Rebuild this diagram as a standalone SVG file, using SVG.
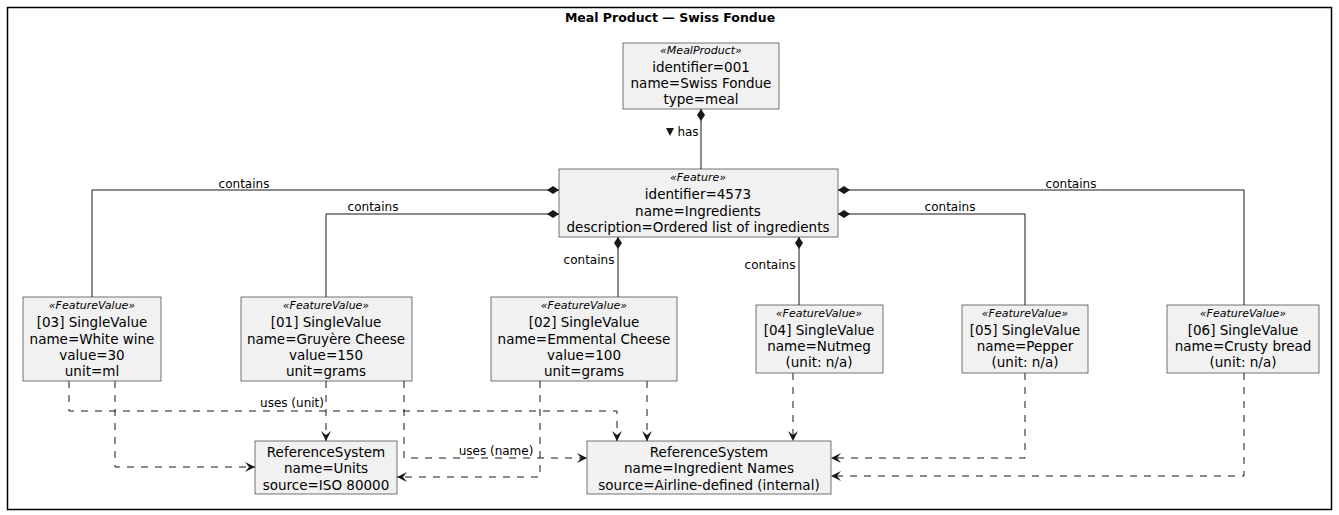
<svg xmlns="http://www.w3.org/2000/svg" width="1339" height="515" viewBox="0 0 1339 515">
<style>
.box{fill:#F1F1F1;stroke:#181818;stroke-width:0.6}
text{font-family:"DejaVu Sans","Liberation Sans",Arial,sans-serif;fill:#000}
.t{font-size:13.5px;text-anchor:middle}
.st{font-size:11px;font-style:italic;text-anchor:middle}
.lbl{font-size:12px;text-anchor:middle}
.ln{fill:none;stroke:#181818;stroke-width:1}
.dl{fill:none;stroke:#181818;stroke-width:1;stroke-dasharray:7,7}
</style>
<defs>
<marker id="arr" viewBox="0 0 12 10" refX="11" refY="5" markerWidth="12" markerHeight="10" markerUnits="userSpaceOnUse" orient="auto">
<path d="M1,0 L11,5 L1,10 L5,5 Z" fill="#181818"/>
</marker>
<marker id="dia" viewBox="0 0 14 10" refX="1" refY="5" markerWidth="14" markerHeight="10" markerUnits="userSpaceOnUse" orient="auto">
<path d="M1,5 L7,1 L13,5 L7,9 Z" fill="#181818"/>
</marker>
</defs>
<rect x="7.5" y="7.5" width="1324" height="502" fill="none" stroke="#000" stroke-width="1.5"/>
<text x="670" y="22" style="font-size:12.5px;font-weight:bold;text-anchor:middle">Meal Product — Swiss Fondue</text>

<g id="connectors">
<path class="ln" d="M701,109 L701,169" marker-start="url(#dia)"/>
<path d="M666,128 L674,128 L670,136 Z" fill="#181818"/>
<text x="688" y="136" class="lbl">has</text>
<path class="ln" d="M559,190 L92,190 L92,297" marker-start="url(#dia)"/>
<text x="244" y="188" class="lbl">contains</text>
<path class="ln" d="M559,214 L326,214 L326,297" marker-start="url(#dia)"/>
<text x="373" y="211" class="lbl">contains</text>
<path class="ln" d="M838,190 L1244,190 L1244,305" marker-start="url(#dia)"/>
<text x="1071" y="188" class="lbl">contains</text>
<path class="ln" d="M838,214 L1025,214 L1025,305" marker-start="url(#dia)"/>
<text x="950" y="211" class="lbl">contains</text>
<path class="ln" d="M618,237 L618,297" marker-start="url(#dia)"/>
<text x="589" y="264" class="lbl">contains</text>
<path class="ln" d="M799,237 L799,305" marker-start="url(#dia)"/>
<text x="770" y="269" class="lbl">contains</text>

<path class="dl" d="M69,381 L69,411 L617,411 L617,441" marker-end="url(#arr)"/>
<path class="dl" d="M115,381 L115,467 L255,467" marker-end="url(#arr)"/>
<path class="dl" d="M326,381 L326,441" marker-end="url(#arr)"/>
<text x="292" y="407" class="lbl">uses (unit)</text>
<path class="dl" d="M404,381 L404,458 L587,458" marker-end="url(#arr)"/>
<text x="496" y="455" class="lbl">uses (name)</text>
<path class="dl" d="M540,381 L540,477 L397,477" marker-end="url(#arr)"/>
<path class="dl" d="M647,381 L647,441" marker-end="url(#arr)"/>
<path class="dl" d="M793,373 L793,441" marker-end="url(#arr)"/>
<path class="dl" d="M1025,373 L1025,458 L831,458" marker-end="url(#arr)"/>
<path class="dl" d="M1244,373 L1244,476 L831,476" marker-end="url(#arr)"/>
</g>

<g id="meal">
<rect class="box" x="623" y="43" width="156" height="66"/>
<text x="701" y="54" class="st">«MealProduct»</text>
<text x="701" y="72" class="t">identifier=001</text>
<text x="701" y="88" class="t">name=Swiss Fondue</text>
<text x="701" y="104" class="t">type=meal</text>
</g>

<g id="feature">
<rect class="box" x="559" y="169" width="279" height="68"/>
<text x="698" y="181" class="st">«Feature»</text>
<text x="698" y="199" class="t">identifier=4573</text>
<text x="698" y="216" class="t">name=Ingredients</text>
<text x="698" y="232" class="t">description=Ordered list of ingredients</text>
</g>

<g id="fv03">
<rect class="box" x="23" y="297" width="138" height="84"/>
<text x="92" y="309" class="st">«FeatureValue»</text>
<text x="92" y="327" class="t">[03] SingleValue</text>
<text x="92" y="344" class="t">name=White wine</text>
<text x="92" y="360" class="t">value=30</text>
<text x="92" y="376" class="t">unit=ml</text>
</g>

<g id="fv01">
<rect class="box" x="241" y="297" width="171" height="84"/>
<text x="326" y="309" class="st">«FeatureValue»</text>
<text x="326" y="327" class="t">[01] SingleValue</text>
<text x="326" y="344" class="t">name=Gruyère Cheese</text>
<text x="326" y="360" class="t">value=150</text>
<text x="326" y="376" class="t">unit=grams</text>
</g>

<g id="fv02">
<rect class="box" x="491" y="297" width="186" height="84"/>
<text x="584" y="309" class="st">«FeatureValue»</text>
<text x="584" y="327" class="t">[02] SingleValue</text>
<text x="584" y="344" class="t">name=Emmental Cheese</text>
<text x="584" y="360" class="t">value=100</text>
<text x="584" y="376" class="t">unit=grams</text>
</g>

<g id="fv04">
<rect class="box" x="756" y="305" width="127" height="68"/>
<text x="819" y="317" class="st">«FeatureValue»</text>
<text x="819" y="335" class="t">[04] SingleValue</text>
<text x="819" y="351" class="t">name=Nutmeg</text>
<text x="819" y="367" class="t">(unit: n/a)</text>
</g>

<g id="fv05">
<rect class="box" x="962" y="305" width="126" height="68"/>
<text x="1025" y="317" class="st">«FeatureValue»</text>
<text x="1025" y="335" class="t">[05] SingleValue</text>
<text x="1025" y="351" class="t">name=Pepper</text>
<text x="1025" y="367" class="t">(unit: n/a)</text>
</g>

<g id="fv06">
<rect class="box" x="1167" y="305" width="152" height="68"/>
<text x="1243" y="317" class="st">«FeatureValue»</text>
<text x="1243" y="335" class="t">[06] SingleValue</text>
<text x="1243" y="351" class="t">name=Crusty bread</text>
<text x="1243" y="367" class="t">(unit: n/a)</text>
</g>

<g id="units">
<rect class="box" x="255" y="441" width="142" height="53"/>
<text x="326" y="457" class="t">ReferenceSystem</text>
<text x="326" y="473" class="t">name=Units</text>
<text x="326" y="490" class="t">source=ISO 80000</text>
</g>

<g id="names">
<rect class="box" x="587" y="441" width="244" height="53"/>
<text x="709" y="457" class="t">ReferenceSystem</text>
<text x="709" y="473" class="t">name=Ingredient Names</text>
<text x="709" y="490" class="t">source=Airline-defined (internal)</text>
</g>
</svg>
